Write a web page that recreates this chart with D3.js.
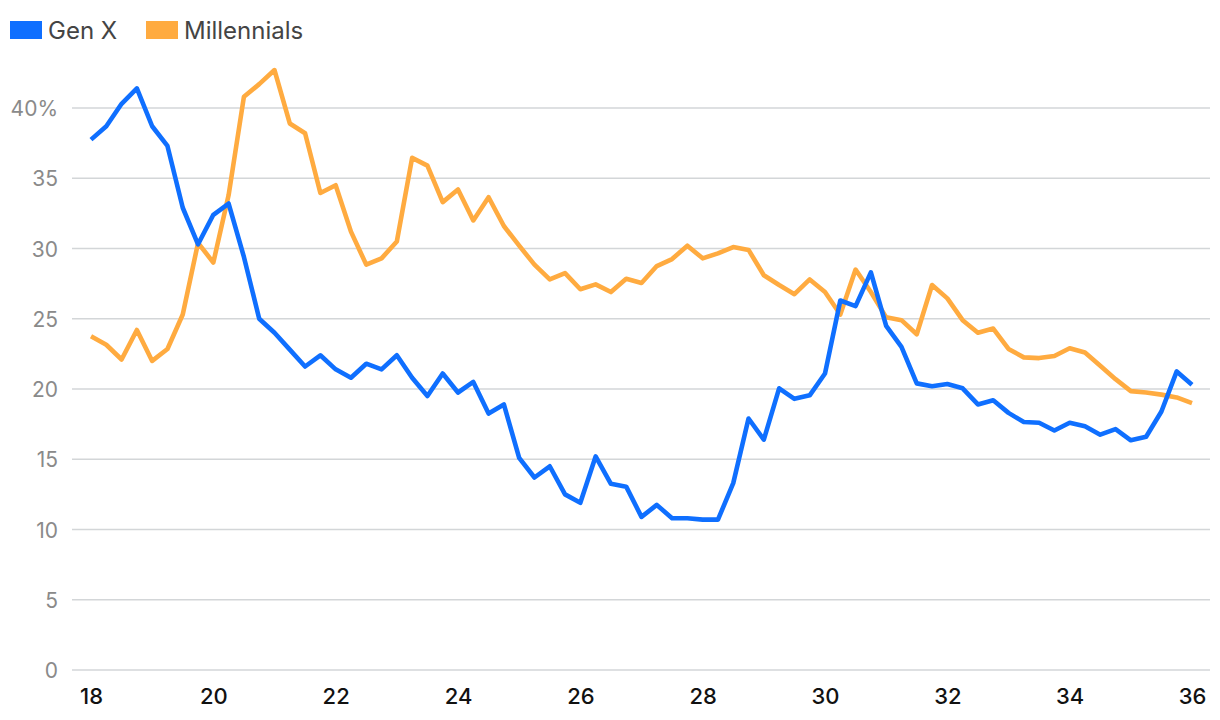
<!DOCTYPE html>
<html>
<head>
<meta charset="utf-8">
<script src="https://cdn.jsdelivr.net/npm/d3@7"></script>
<style>
  html, body { margin: 0; padding: 0; background: #fff; }
  svg { display: block; }
</style>
</head>
<body>
<svg id="chart" width="1220" height="720"></svg>
<script>
const seriesNames = ["Gen X", "Millennials"];
const seriesColors = ["#0F6FFF", "#FFAB40"];
const xTickValues = [18, 20, 22, 24, 26, 28, 30, 32, 34, 36];
const yTickValues = [0, 5, 10, 15, 20, 25, 30, 35, 40];
const periods = d3.range(0, 73).map(i => 18 + i / 4);

const genX = [37.75, 38.7, 40.3, 41.4, 38.7, 37.3, 32.9, 30.3, 32.4, 33.2,
  29.4, 25.0, 24.0, 22.8, 21.6, 22.4, 21.4, 20.8, 21.8, 21.4,
  22.4, 20.8, 19.5, 21.1, 19.75, 20.5, 18.25, 18.9, 15.1, 13.7,
  14.5, 12.5, 11.9, 15.2, 13.25, 13.05, 10.9, 11.75, 10.8, 10.8,
  10.7, 10.7, 13.3, 17.9, 16.4, 20.05, 19.3, 19.55, 21.1, 26.3,
  25.9, 28.3, 24.5, 23.0, 20.4, 20.2, 20.35, 20.05, 18.9, 19.2,
  18.3, 17.65, 17.6, 17.05, 17.6, 17.35, 16.75, 17.15, 16.35, 16.6,
  18.4, 21.25, 20.3];

const millennials = [23.75, 23.15, 22.1, 24.2, 22.0, 22.85, 25.3, 30.4, 29.0, 33.8,
  40.8, 41.7, 42.7, 38.9, 38.2, 33.95, 34.5, 31.2, 28.85, 29.3,
  30.5, 36.45, 35.9, 33.3, 34.2, 32.0, 33.65, 31.6, 30.2, 28.85,
  27.8, 28.25, 27.1, 27.45, 26.9, 27.85, 27.55, 28.75, 29.25, 30.2,
  29.3, 29.65, 30.1, 29.9, 28.1, 27.4, 26.75, 27.8, 26.9, 25.3,
  28.5, 26.9, 25.1, 24.9, 23.9, 27.4, 26.45, 24.9, 24.0, 24.3,
  22.85, 22.25, 22.2, 22.35, 22.9, 22.6, 21.65, 20.7, 19.85, 19.75,
  19.6, 19.4, 19.0];

const svg = d3.select("#chart");
const x = d3.scaleLinear().domain([18, 36]).range([91, 1192]);
const y = d3.scaleLinear().domain([0, 40]).range([670, 108]);

// gridlines
svg.append("g").selectAll("line").data(yTickValues).join("line")
  .attr("x1", 72).attr("x2", 1210)
  .attr("y1", d => y(d)).attr("y2", d => y(d))
  .attr("stroke", "#d3d6d8").attr("stroke-width", 1.6);

// y labels
const yAxis = d3.axisLeft(y).tickValues(yTickValues).tickSize(0)
  .tickFormat(d => d === 40 ? "40%" : String(d));
const gy = svg.append("g").attr("transform", "translate(58,0)").call(yAxis);
gy.select(".domain").remove();
gy.selectAll("text").attr("x", 0).attr("dy", "0.36em")
  .attr("fill", "#8a8a8a").style("font-family", "Inter, 'Noto Sans', sans-serif")
  .style("font-size", "21px").style("font-weight", "400");

// x labels
const xAxis = d3.axisBottom(x).tickValues(xTickValues).tickSize(0).tickFormat(d => String(d));
const gx = svg.append("g").attr("transform", "translate(0,704)").call(xAxis);
gx.select(".domain").remove();
gx.selectAll("text").attr("y", 0).attr("dy", "0")
  .attr("fill", "#111").style("font-family", "Inter, 'Noto Sans', sans-serif")
  .style("font-weight", "500")
  .style("font-size", "22px");

// lines
const line = d3.line().x((d, i) => x(periods[i])).y(d => y(d));
const allSeries = [genX, millennials];
[1, 0].forEach(k => {
  svg.append("path").datum(allSeries[k])
    .attr("d", line)
    .attr("fill", "none")
    .attr("stroke", seriesColors[k])
    .attr("stroke-width", 4.6)
    .attr("stroke-linejoin", "round")
    .attr("stroke-linecap", "butt");
});

// legend
const legendX = [10, 146];
const lg = svg.append("g");
seriesNames.forEach((name, k) => {
  lg.append("rect").attr("x", legendX[k]).attr("y", 21).attr("width", 32).attr("height", 18)
    .attr("fill", seriesColors[k]);
  lg.append("text").attr("x", legendX[k] + 38).attr("y", 30).attr("dy", "0.36em")
    .attr("fill", "#444").style("font-family", "Inter, 'Noto Sans', sans-serif")
    .style("font-size", "24px").text(name);
});
</script>
</body>
</html>
